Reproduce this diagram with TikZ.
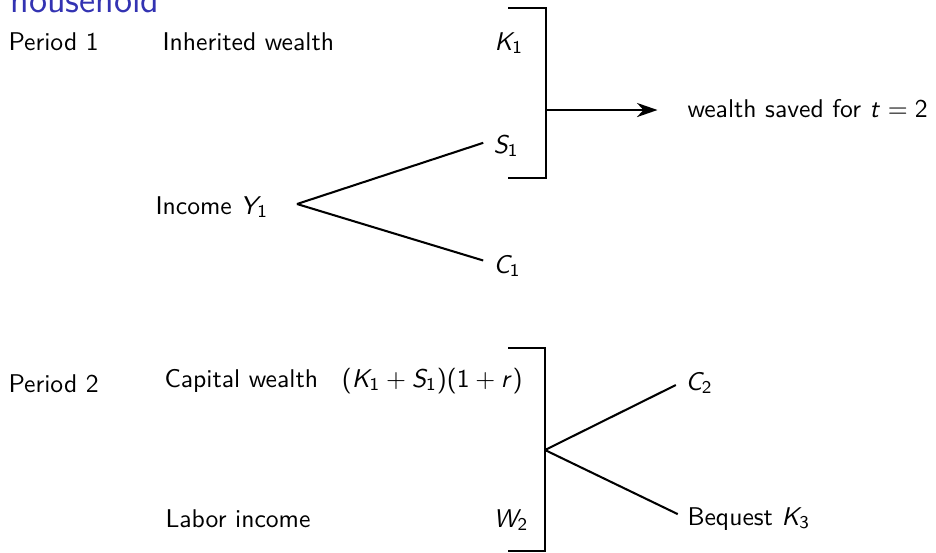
\documentclass[tikz,border=0pt]{standalone}
\usepackage{xcolor}
\usepackage{tikz}
\usetikzlibrary{arrows.meta,positioning}
\renewcommand{\familydefault}{\sfdefault}
\SetSymbolFont{operators}{normal}{OT1}{cmss}{m}{n}
\SetSymbolFont{letters}{normal}{OT1}{cmss}{m}{it}
\definecolor{structblue}{RGB}{51,51,178}

\begin{document}
\begin{tikzpicture}[
      x=0.39pt, y=-0.39pt,
      lbl/.style={anchor=base west, inner sep=0pt},
      val/.style={anchor=base east, inner sep=0pt},
      line/.style={thick},
      branch/.style={thick, shorten >=4pt},
      arrow/.style={-{Stealth[length=8pt, width=5.5pt, inset=2.5pt]}, thick, shorten >=11.5pt}
    ]
      \useasboundingbox (0,0) rectangle (936,552);

      % --- frame title, cut by the top edge ---
      \node[lbl, font=\Large, text=structblue] (title) at (10,12) {household};

      % --- period 1 ---
      \node[lbl]               (p1)    at (8,50)    {Period 1};
      \node[lbl]               (inh)   at (162,50)  {Inherited wealth};
      \node[lbl]               (k1)    at (494,50)  {$K_1$};
      \node[lbl]               (inc)   at (155,214) {Income $Y_1$};
      \node[lbl]               (s1)    at (493,153) {$S_1$};
      \node[lbl]               (c1)    at (493,273) {$C_1$};
      \node[lbl]               (saved) at (687,117) {wealth saved for $t=2$};

      \coordinate (fork1) at (297,204);
      \draw[branch] (fork1) -- ([yshift=2.5pt]s1.west);
      \draw[branch] (fork1) -- ([yshift=1pt]c1.west);

      \coordinate (b1top) at (508,8);
      \coordinate (b1bot) at (508,178);
      \coordinate (b1mid) at (546,110);
      \draw[line] (b1top) -- ++(38,0) |- (b1bot);
      \draw[arrow] (b1mid) -- (b1mid -| saved.west);

      % --- period 2 ---
      \node[lbl]               (p2)    at (8,392)   {Period 2};
      \node[lbl]               (cap)   at (164,387) {Capital wealth};
      \node[val]               (capv)  at (523,387) {$(K_1+S_1)(1+r)$};
      \node[lbl]               (lab)   at (165,527) {Labor income};
      \node[lbl]               (w2)    at (493,527) {$W_2$};
      \node[lbl]               (c2)    at (685,390) {$C_2$};
      \node[lbl]               (beq)   at (687,525) {Bequest $K_3$};

      \coordinate (b2top) at (508,348);
      \coordinate (b2bot) at (508,551);
      \coordinate (fork2) at (545,450);
      \draw[line] (b2top) -- ++(37,0) |- (b2bot);
      \draw[branch] (fork2) -- ([yshift=1pt]c2.west);
      \draw[branch] (fork2) -- (beq.west);
    \end{tikzpicture}
\end{document}
